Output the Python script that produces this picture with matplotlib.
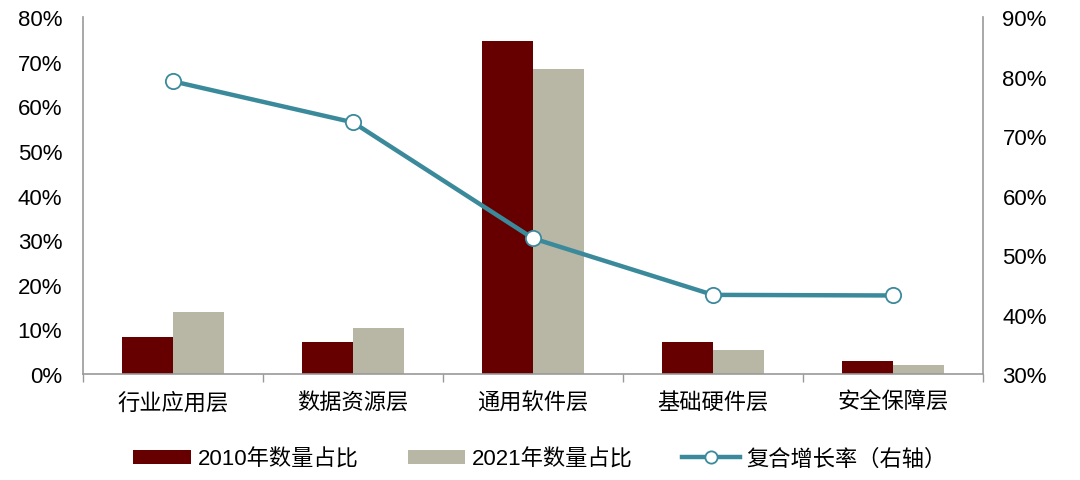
import matplotlib.pyplot as plt
import numpy as np
from matplotlib.ticker import PercentFormatter

plt.rcParams['font.family'] = ['Liberation Sans', 'Noto Sans CJK SC', 'DejaVu Sans']

categories = ["行业应用层", "数据资源层", "通用软件层", "基础硬件层", "安全保障层"]
share_2010 = [8.3, 7.2, 74.6, 7.2, 2.9]
share_2021 = [13.9, 10.3, 68.3, 5.4, 2.0]
cagr = [79.2, 72.3, 52.8, 43.3, 43.2]

c_2010 = "#660000"
c_2021 = "#B8B7A5"
c_line = "#3B8A9C"

fig = plt.figure(figsize=(10.8, 4.81), dpi=100)
ax = fig.add_axes([0.0769, 0.2204, 0.8333, 0.742])
x = np.arange(len(categories))
w = 0.283

ax.bar(x - w / 2, share_2010, w, color=c_2010, label="2010年数量占比", zorder=2)
ax.bar(x + w / 2, share_2021, w, color=c_2021, label="2021年数量占比", zorder=2)
ax.set_xlim(-0.5, len(categories) - 0.5)
ax.set_ylim(0, 80)
ax.set_yticks(range(0, 81, 10))
ax.yaxis.set_major_formatter(PercentFormatter(decimals=0))
ax.set_xticks(x)
ax.set_xticklabels(categories)
ax.set_xticks(np.arange(-0.5, len(categories), 1), minor=True)
ax.tick_params(axis='x', which='major', length=0, pad=13, labelsize=16)
ax.tick_params(axis='x', which='minor', length=6, color="#999999", width=1)
ax.tick_params(axis='y', length=0, labelsize=16, pad=15)

ax2 = ax.twinx()
ax2.plot(x, cagr, color=c_line, lw=3.2, marker='o', markersize=11,
         markerfacecolor='white', markeredgecolor=c_line, markeredgewidth=1.3,
         label="复合增长率（右轴）", zorder=3)
ax2.set_ylim(30, 90)
ax2.set_yticks(range(30, 91, 10))
ax2.yaxis.set_major_formatter(PercentFormatter(decimals=0))
ax2.tick_params(axis='y', length=0, labelsize=16, pad=14)

for a in (ax, ax2):
    a.spines['top'].set_visible(False)
    for s in ('left', 'right', 'bottom'):
        a.spines[s].set_color("#999999")
        a.spines[s].set_linewidth(1.2)
ax.spines['right'].set_visible(False)
ax2.spines['left'].set_visible(False)
ax2.spines['bottom'].set_visible(False)

h1, l1 = ax.get_legend_handles_labels()
h2, l2 = ax2.get_legend_handles_labels()
fig.legend(h1 + h2, l1 + l2, loc='center', bbox_to_anchor=(0.5, 0.043), ncol=3,
           frameon=False, fontsize=16, handlelength=2.6, handleheight=0.6,
           columnspacing=2.2, handletextpad=0.3, markerscale=0.8)

fig.savefig("out.png", dpi=100)
